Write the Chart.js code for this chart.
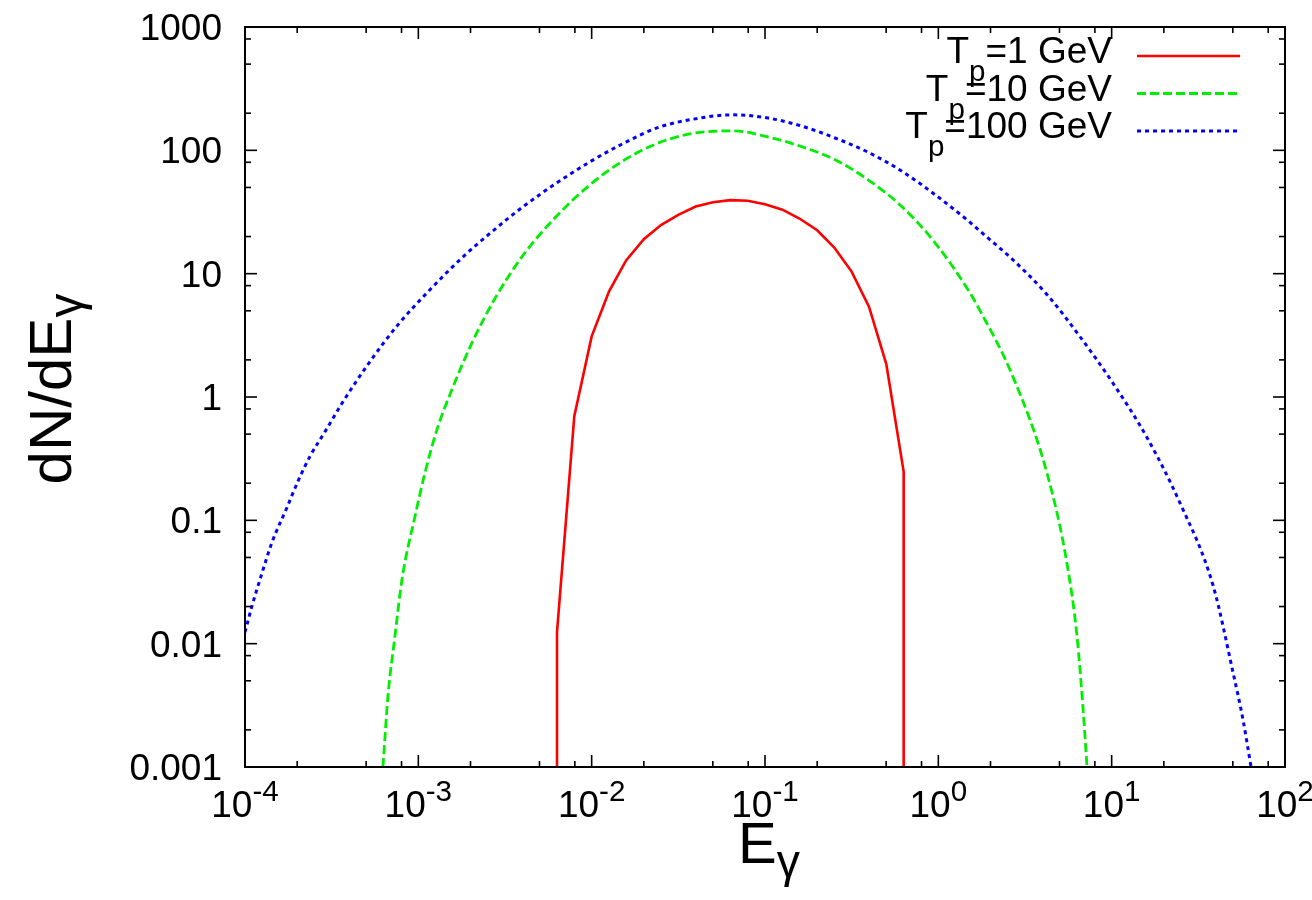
<!DOCTYPE html>
<html>
<head>
<meta charset="utf-8">
<title>Photon spectra dN/dE</title>
<script src="https://cdn.jsdelivr.net/npm/chart.js@4/dist/chart.umd.min.js"></script>
<style>
  html, body { margin: 0; padding: 0; background: #ffffff; }
  #wrap { width: 1312px; height: 900px; position: relative; }
</style>
</head>
<body>
<div id="wrap"><canvas id="chart" width="1312" height="900"></canvas></div>
<script>
// ---- Data: photon energy E_gamma (GeV) and dN/dE_gamma for three proton energies ----
const tp1Energy = [6.31e-3, 6.31e-3, 7.94e-3, 1.0e-2, 1.26e-2, 1.58e-2, 2.0e-2, 2.51e-2, 3.16e-2,
  3.98e-2, 5.01e-2, 6.31e-2, 7.94e-2, 0.1, 0.126, 0.158, 0.2, 0.251, 0.316, 0.398, 0.501, 0.631, 0.631];
const tp1Flux = [1e-5, 0.0124, 0.70, 3.1, 7.2, 12.8, 19.0, 24.8, 30, 35, 38, 39.5, 39, 36.5, 33,
  28, 22.5, 16.3, 10.4, 5.4, 1.85, 0.247, 1e-5];

const tp10Energy = [6.25e-4, 6.68e-4, 7.33e-4, 8.05e-4, 9.57e-4, 1.094e-3, 1.282e-3, 1.563e-3, 2.04e-3,
  2.77e-3, 4.02e-3, 6.31e-3, 9.77e-3, 1.517e-2, 2.38e-2, 3.69e-2, 6.53e-2, 0.104, 0.164, 0.254,
  0.393, 0.617, 0.957, 1.483, 1.742, 2.70, 4.24, 5.52, 6.31, 6.84, 7.21];
const tp10Flux = [1.0e-3, 3.76e-3, 1.15e-2, 3.33e-2, 0.108, 0.245, 0.546, 1.15, 2.75,
  6.3, 14.1, 29.5, 52.5, 82.2, 113.5, 136, 144, 128.5, 106.7, 83.8,
  57.7, 34.9, 17.8, 7.41, 5.0, 1.45, 0.24, 0.0449, 0.0115, 2.95e-3, 1.0e-3];

const tp100Energy = [1.0e-4, 1.096e-4, 1.222e-4, 1.432e-4, 1.746e-4, 2.02e-4, 2.37e-4, 2.90e-4, 3.63e-4,
  5.26e-4, 7.64e-4, 1.167e-3, 1.811e-3, 2.66e-3, 4.02e-3, 6.31e-3, 9.77e-3, 1.517e-2, 2.38e-2,
  3.69e-2, 6.53e-2, 0.104, 0.164, 0.254, 0.393, 0.617, 0.957, 1.483, 1.742, 2.70, 4.24, 6.56,
  10.19, 16.0, 24.8, 38.5, 50.1, 57.3, 63.7];
const tp100Flux = [0.0124, 0.0201, 0.0333, 0.0664, 0.127, 0.207, 0.330, 0.526, 0.89,
  1.94, 3.86, 7.41, 13.7, 21.9, 34.9, 54.6, 80.7, 113.5, 152,
  177, 194, 183, 156.7, 125.9, 96.6, 67.6, 43.7, 26.9, 22.1, 12.9, 6.76, 3.09,
  1.29, 0.468, 0.138, 0.0295, 5.87e-3, 2.40e-3, 1.0e-3];

const seriesNames = ['T_p=1 GeV', 'T_p=10 GeV', 'T_p=100 GeV'];

// ---- Axis ticks ----
const xTickExponents = [-4, -3, -2, -1, 0, 1, 2];
const yTickValues = [0.001, 0.01, 0.1, 1, 10, 100, 1000];
const yTickLabels = ['0.001', '0.01', '0.1', '1', '10', '100', '1000'];
const minorMultipliers = [2, 5, 8];
const xTitle = 'E_\u03b3';
const yTitle = 'dN/dE_\u03b3';

function pts(xs, ys) { return xs.map((x, i) => ({ x: x, y: ys[i] })); }

const FAMILY = '"Liberation Sans", Arimo, Arial, Helvetica, sans-serif';
function font(size) { return size + 'px ' + FAMILY; }

// split "T_p=1" into runs; "_c" makes one subscript character
function richParts(str) {
  const parts = []; let buf = ''; let i = 0;
  while (i < str.length) {
    if (str[i] === '_') {
      if (buf) { parts.push({ t: buf, s: 0 }); buf = ''; }
      parts.push({ t: str[i + 1], s: -1 }); i += 2;
    } else { buf += str[i]; i++; }
  }
  if (buf) parts.push({ t: buf, s: 0 });
  return parts;
}

function drawRich(ctx, parts, x, y, size, align, subDrop, supRise) {
  const widths = []; let total = 0;
  for (const p of parts) {
    ctx.font = font(p.s ? size * 0.8 : size);
    const w = ctx.measureText(p.t).width; widths.push(w); total += w;
  }
  let cx = align === 'right' ? x - total : (align === 'center' ? x - total / 2 : x);
  ctx.textAlign = 'left'; ctx.textBaseline = 'alphabetic';
  parts.forEach((p, i) => {
    ctx.font = font(p.s ? size * 0.8 : size);
    const dy = p.s < 0 ? subDrop : (p.s > 0 ? -supRise : 0);
    ctx.fillText(p.t, cx, y + dy);
    cx += widths[i];
  });
}

function line(ctx, x1, y1, x2, y2) { ctx.beginPath(); ctx.moveTo(x1, y1); ctx.lineTo(x2, y2); ctx.stroke(); }

const TICK_FONT = 37, LEGEND_FONT = 37, TITLE_FONT = 58;

const framePlugin = {
  id: 'gnuFrame',
  beforeDraw(chart) {
    const ctx = chart.ctx;
    ctx.save(); ctx.fillStyle = '#ffffff'; ctx.fillRect(0, 0, chart.width, chart.height); ctx.restore();
  },
  afterDraw(chart) {
    const ctx = chart.ctx, a = chart.chartArea, xs = chart.scales.x, ys = chart.scales.y;
    ctx.save();
    ctx.strokeStyle = '#000'; ctx.fillStyle = '#000';

    // inward ticks on all four sides
    ctx.lineWidth = 1.6;
    for (let k = 0; k < xTickExponents.length; k++) {
      const e = xTickExponents[k];
      for (const m of [1].concat(minorMultipliers)) {
        const v = m * Math.pow(10, e);
        if (v > xs.max * 1.0001) continue;
        const px = xs.getPixelForValue(v);
        const len = m === 1 ? 12 : 6;
        line(ctx, px, a.bottom, px, a.bottom - len);
        line(ctx, px, a.top, px, a.top + len);
      }
    }
    for (let k = 0; k < yTickValues.length; k++) {
      for (const m of [1].concat(minorMultipliers)) {
        const v = m * yTickValues[k];
        if (v > ys.max * 1.0001) continue;
        const py = ys.getPixelForValue(v);
        const len = m === 1 ? 12 : 6;
        line(ctx, a.left, py, a.left + len, py);
        line(ctx, a.right, py, a.right - len, py);
      }
    }

    // frame
    ctx.lineWidth = 2;
    ctx.strokeRect(a.left, a.top, a.right - a.left, a.bottom - a.top);

    // y tick labels
    ctx.font = font(TICK_FONT); ctx.textAlign = 'right'; ctx.textBaseline = 'alphabetic';
    yTickValues.forEach((v, i) => {
      ctx.fillText(yTickLabels[i], a.left - 23, ys.getPixelForValue(v) + 13);
    });

    // x tick labels 10^n
    xTickExponents.forEach(e => {
      const px = xs.getPixelForValue(Math.pow(10, e));
      drawRich(ctx, [{ t: '10', s: 0 }, { t: String(e), s: 1 }], px, a.bottom + 50, TICK_FONT, 'center', 0, 16);
    });

    // axis titles
    drawRich(ctx, richParts(xTitle), xs.getPixelForValue(0.1) + 4, 863, TITLE_FONT, 'center', 14, 0);
    ctx.save();
    ctx.translate(71, 389);
    ctx.rotate(-Math.PI / 2);
    drawRich(ctx, richParts(yTitle), 0, 0, TITLE_FONT + 2, 'center', 11, 0);
    ctx.restore();

    // key
    const rowY = [56, 93.5, 131];
    chart.data.datasets.forEach((ds, i) => {
      const y = rowY[i];
      ctx.fillStyle = '#000';
      drawRich(ctx, richParts(seriesNames[i]), 1112, y + 7, LEGEND_FONT, 'right', 18, 0);
      ctx.save();
      ctx.strokeStyle = ds.borderColor; ctx.lineWidth = ds.borderWidth;
      ctx.setLineDash(ds.borderDash || []); ctx.lineCap = 'butt';
      line(ctx, 1137, y, 1240, y);
      ctx.restore();
    });
    ctx.restore();
  }
};

new Chart(document.getElementById('chart'), {
  type: 'scatter',
  data: {
    datasets: [
      { label: seriesNames[0], data: pts(tp1Energy, tp1Flux), showLine: true, borderColor: '#ff0000',
        borderWidth: 2.6, pointRadius: 0, tension: 0 },
      { label: seriesNames[1], data: pts(tp10Energy, tp10Flux), showLine: true, borderColor: '#00ee00',
        borderWidth: 2.8, borderDash: [9, 4], pointRadius: 0, cubicInterpolationMode: 'monotone' },
      { label: seriesNames[2], data: pts(tp100Energy, tp100Flux), showLine: true, borderColor: '#0000ff',
        borderWidth: 3, borderDash: [4, 4], pointRadius: 0, cubicInterpolationMode: 'monotone' }
    ]
  },
  options: {
    responsive: false,
    devicePixelRatio: 1,
    animation: false,
    layout: { padding: { left: 245, right: 27, top: 27, bottom: 133 } },
    plugins: { legend: { display: false }, tooltip: { enabled: false } },
    scales: {
      x: { type: 'logarithmic', min: 1e-4, max: 1e2, display: false },
      y: { type: 'logarithmic', min: 1e-3, max: 1e3, display: false }
    }
  },
  plugins: [framePlugin]
});
</script>
</body>
</html>
